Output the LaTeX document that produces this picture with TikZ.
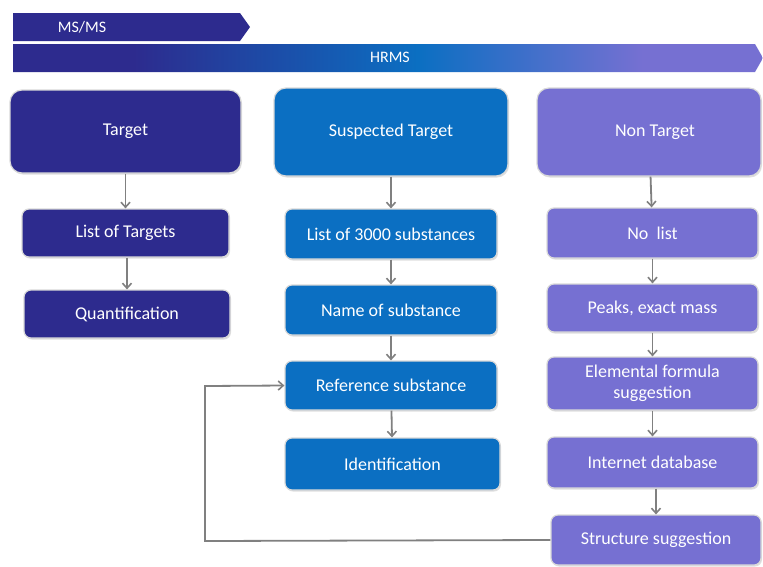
\documentclass[tikz,border=0pt]{standalone}
\usepackage{fontspec}
\setmainfont{Carlito}
\usetikzlibrary{arrows.meta,shadows}
\definecolor{navy}{HTML}{2D2B8E}
\definecolor{midblue}{HTML}{0B6FC2}
\definecolor{lav}{HTML}{7670D2}
\definecolor{arr}{HTML}{808080}
\pgfdeclarehorizontalshading{hrmsshade}{100bp}{color(0bp)=(navy); color(33bp)=(navy); color(52bp)=(midblue); color(67bp)=(lav); color(100bp)=(lav)}
\tikzset{
  box/.style={draw=gray!30, line width=1.2pt, rounded corners=7pt, text=white,
    font=\fontsize{18}{21}\selectfont, align=center, inner sep=0pt,
    drop shadow={shadow xshift=1pt, shadow yshift=-1.5pt, opacity=0.25}},
  bigbox/.style={box, rounded corners=12pt},
  flow/.style={draw=arr, line width=1.8pt, -{Straight Barb[length=5pt,width=9pt,line width=1.6pt]}},
  barlabel/.style={text=white, font=\fontsize{16}{18}\selectfont},
}
\begin{document}
\begin{tikzpicture}[x=1pt,y=-1pt]
\useasboundingbox (0,0) rectangle (763,566);
\fill[white] (0,0) rectangle (763,566);
% top bars
\fill[navy] (13,13) -- (240,13) -- (250,27) -- (240,41) -- (13,41) -- cycle;
\node[barlabel] (msms) at (82,27) {MS/MS};
\shade[shading=hrmsshade] (13,44) -- (755,44) -- (763,58) -- (755,72) -- (13,72) -- cycle;
\node[barlabel] (hrms) at (390,57) {HRMS};
% column 1
\node[bigbox, fill=navy, minimum width=231pt, minimum height=83pt] (target) at (125.5,131.5) {Target};
\node[box, fill=navy, minimum width=207pt, minimum height=48pt] (listT) at (125.5,233) {List of Targets};
\node[box, fill=navy, minimum width=206pt, minimum height=48pt] (quant) at (127,314) {Quantification};
% column 2
\node[bigbox, fill=midblue, minimum width=234pt, minimum height=88pt] (susp) at (391,132) {Suspected Target};
\node[box, fill=midblue, minimum width=212pt, minimum height=50pt] (list3000) at (391,234) {List of 3000 substances};
\node[box, fill=midblue, minimum width=212pt, minimum height=50pt] (name) at (391,310) {Name of substance};
\node[box, fill=midblue, minimum width=212pt, minimum height=49pt] (ref) at (391,385.5) {Reference substance};
\node[box, fill=midblue, minimum width=215pt, minimum height=52pt] (ident) at (392.5,464) {Identification};
% column 3
\node[bigbox, fill=lav, minimum width=224pt, minimum height=88pt] (nontarget) at (649,132) {\hspace*{12pt}Non Target};
\node[box, fill=lav, minimum width=211pt, minimum height=50pt] (nolist) at (652.5,233) {No\ \ list};
\node[box, fill=lav, minimum width=211pt, minimum height=48pt] (peaks) at (652.5,308) {Peaks, exact mass};
\node[box, fill=lav, minimum width=211pt, minimum height=53pt] (elem) at (652.5,383.5) {Elemental formula\\suggestion};
\node[box, fill=lav, minimum width=211pt, minimum height=51pt] (inet) at (652.5,462.5) {Internet database};
\node[box, fill=lav, minimum width=210pt, minimum height=50pt] (struct) at (656,540) {Structure suggestion};
% arrows
\draw[flow] (target.south) -- (listT.north);
\draw[flow] (listT.south -| quant.north) -- (quant.north);
\draw[flow] (susp) -- (list3000);
\draw[flow] (list3000) -- (name);
\draw[flow] (name) -- (ref);
\draw[flow] (ref) -- (ident);
\draw[flow] (nontarget) -- (nolist);
\draw[flow] (nolist) -- (peaks);
\draw[flow] (peaks) -- (elem);
\draw[flow] (elem) -- (inet);
\draw[flow] (inet.south -| struct.north) -- (struct.north);
\coordinate (c1) at (205,541);
\coordinate (c2) at (205,386);
\draw[flow] (struct.west) -- (c1) -- (c2) -- (ref.west);
\end{tikzpicture}
\end{document}
